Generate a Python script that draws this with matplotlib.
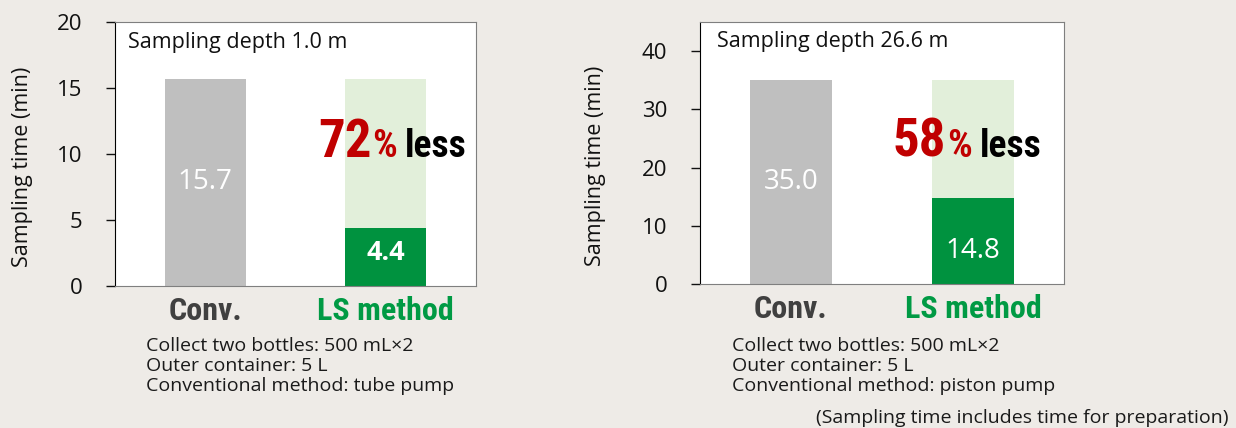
import matplotlib
matplotlib.use("Agg")
import matplotlib.pyplot as plt
from matplotlib import font_manager as fm

# Data
categories = ["Conv.", "LS method"]
depth_titles = ["Sampling depth 1.0 m", "Sampling depth 26.6 m"]
times = [[15.7, 4.4], [35.0, 14.8]]
reductions = ["72", "58"]
y_limits = [20, 45]
y_ticks = [[0, 5, 10, 15, 20], [0, 10, 20, 30, 40]]
notes = [
    "Collect two bottles: 500 mL×2\nOuter container: 5 L\nConventional method: tube pump",
    "Collect two bottles: 500 mL×2\nOuter container: 5 L\nConventional method: piston pump",
]
footnote = "(Sampling time includes time for preparation)"

# Fonts: look for a condensed family that has a real bold face
bold_faces = {f.name for f in fm.fontManager.ttflist if f.weight in (700, "bold")}
names = {f.name for f in fm.fontManager.ttflist}
narrow = "Roboto"
for cand in ["Roboto Condensed", "Liberation Sans Narrow", "Archivo Narrow", "Fira Sans Condensed",
             "IBM Plex Sans Condensed", "Barlow Condensed", "PT Sans Narrow", "Encode Sans Condensed",
             "Saira Condensed", "Oswald"]:
    if cand in bold_faces:
        narrow = cand
        break
body = "Open Sans" if "Open Sans" in names else "DejaVu Sans"
plt.rcParams["font.family"] = [body, "DejaVu Sans"]
NARROW = [narrow, "DejaVu Sans"]

BG = "#eeebe7"
GRAY = "#bfbfbf"
GREEN = "#00923f"
LIGHT_GREEN = "#e2efda"
RED = "#c00000"

fig = plt.figure(figsize=(12.36, 4.28), dpi=100, facecolor=BG)
axes_pos = [[0.0930, 0.3318, 0.2921, 0.6168], [0.5663, 0.3364, 0.2945, 0.6121]]
text_pos = [(0.562, 0.489), (0.530, 0.485)]
note_x = [146 / 1236, 732 / 1236]

for i in range(2):
    ax = fig.add_axes(axes_pos[i])
    ax.set_facecolor("white")
    conv, ls = times[i]
    x = range(len(categories))

    # ghost bar behind LS method at the conventional height
    ax.bar([1], [conv], width=0.45, color=LIGHT_GREEN, zorder=1)
    bars = ax.bar(x, times[i], width=0.45, color=[GRAY, GREEN], zorder=2)
    ax.bar_label(bars, labels=[f"{conv:.1f}", ""], label_type="center",
                 color="white", fontsize=20)
    # LS value sits at the same height above the baseline in both panels
    ax.annotate(f"{ls:.1f}", xy=(1, 0), xytext=(0, 24), textcoords="offset points",
                ha="center", va="center", color="white",
                fontsize=19.5 if i == 0 else 20,
                fontweight="bold" if i == 0 else "normal", zorder=5)

    ax.set_xlim(-0.5, 1.5)
    ax.set_ylim(0, y_limits[i])
    ax.set_yticks(y_ticks[i])
    ax.tick_params(axis="y", length=6.5, width=1, pad=17, labelsize=16, colors="#111111")
    ax.tick_params(axis="x", length=0, pad=7)
    ax.set_xticks(list(x))
    ax.set_xticklabels(categories, fontsize=23, fontweight="bold", family=NARROW)
    ax.get_xticklabels()[0].set_color("#404040")
    ax.get_xticklabels()[1].set_color("#009a44")

    for side in ["top", "right", "bottom"]:
        ax.spines[side].set_color("#7f7f7f")
    ax.spines["left"].set_color("black")

    ax.set_ylabel("Sampling time (min)", fontsize=15.5, color="#111111")
    ax.yaxis.set_label_coords([-0.228, -0.258][i], 0.45)

    ax.text([0.036, 0.047][i], 0.924, depth_titles[i], transform=ax.transAxes,
            fontsize=15.5, va="center", ha="left", color="#111111")

    # "72% less" annotation
    tx, ty = text_pos[i]
    t1 = ax.text(tx, ty, reductions[i], transform=ax.transAxes, color=RED,
                 fontsize=38, fontweight="bold", family=NARROW,
                 ha="left", va="baseline", zorder=5)
    t2 = ax.annotate("%", xy=(1, 0), xycoords=t1, xytext=(0.5, 2.2), textcoords="offset points",
                     color=RED, fontsize=28, fontweight="bold", family=NARROW,
                     ha="left", va="bottom", zorder=5)
    ax.annotate("less", xy=(1, 0), xycoords=t2, xytext=(6, 0), textcoords="offset points",
                color="black", fontsize=27, fontweight="bold", family=NARROW,
                ha="left", va="bottom", zorder=5)

    fig.text(note_x[i], 1 - 337 / 428, notes[i], fontsize=14, ha="left", va="top",
             color="#1a1a1a", linespacing=1.13)

fig.text(1228 / 1236, 1 - 418 / 428, footnote, fontsize=14, ha="right", va="center",
         color="#1a1a1a")

fig.savefig("out.png", dpi=100, facecolor=BG)
